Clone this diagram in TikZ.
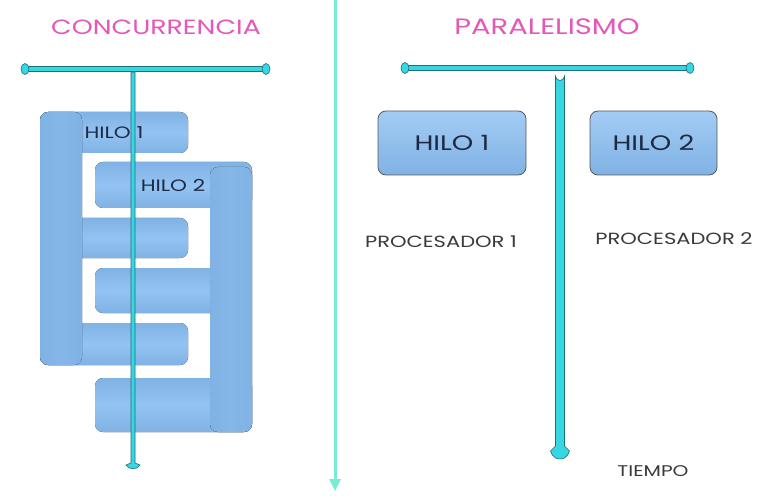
\documentclass[tikz,border=0pt]{standalone}
\usepackage{fontspec}
\setmainfont{Poppins}[FakeStretch=1.3]
\usetikzlibrary{shapes.geometric}
\definecolor{barfill}{HTML}{36D6E2}
\definecolor{barline}{HTML}{1D6F7A}
\definecolor{divcol}{HTML}{78EDD0}
\definecolor{titlepink}{HTML}{E458B8}
\definecolor{blkA}{HTML}{93C3F2}
\definecolor{blkB}{HTML}{80B2E4}
\definecolor{navy}{HTML}{1E2A44}
\definecolor{graytxt}{HTML}{3A3A3A}
\tikzset{
  title/.style={text=titlepink, inner sep=0pt},
  hbar/.style={rounded corners=8pt, draw=none, top color=blkB, bottom color=blkB, middle color=blkA},
  vbar/.style={rounded corners=8pt, draw=none, left color=blkB, right color=blkB, middle color=blkB!75!blkA},
  tbox/.style={rectangle, rounded corners=8pt, draw=black!65, line width=0.8pt, top color=blkA!85!white, bottom color=blkB, minimum width=148pt, minimum height=64pt, text=navy, font=\fontsize{21}{23}\selectfont},
  ltxt/.style={text=navy, font=\fontsize{16.5}{18}\selectfont, inner sep=0pt},
  ptxt/.style={text=graytxt, font=\fontsize{16.2}{18}\selectfont, inner sep=0pt},
  bar/.style={draw=barline, fill=barfill, line width=0.6pt}
}
\begin{document}
\begin{tikzpicture}[x=1pt,y=-1pt]
\useasboundingbox (0,0) rectangle (777,500);
\fill[white] (0,0) rectangle (777,500);

% titles
\node[title, font=\fontsize{20.6}{22}\selectfont] (tconc) at (156,27) {CONCURRENCIA};
\node[title, font=\fontsize{22.3}{24}\selectfont] (tpar) at (547,27) {PARALELISMO};

% divider
\draw[divcol, line width=3pt] (335,0) -- (335,480);
\fill[divcol] (329,479) -- (341,479) -- (335,491) -- cycle;

% left blocks: horizontal bars
\fill[hbar] (40,112) rectangle (188,153);
\fill[hbar] (95,162) rectangle (252,208);
\fill[hbar] (60,218) rectangle (188,258);
\fill[hbar] (95,268) rectangle (230,313);
\fill[hbar] (40,323) rectangle (188,365);
\fill[hbar] (95,378) rectangle (252,432);
% vertical bars
\fill[vbar] (40,112) rectangle (82,365);
\fill[vbar] (210,167) rectangle (252,432);

\node[ltxt] (lh1) at (114,133) {HILO 1};
\node[ltxt] (lh2) at (173,185) {HILO 2};

% left timeline
\draw[bar] (27,66.5) rectangle (265,71.5);
\draw[bar] (25,69) ellipse (4pt and 5.5pt);
\draw[bar] (266,69) ellipse (4pt and 5.5pt);
\draw[bar] (131,72) -- (131,463) -- (126,465) .. controls (128,470) and (138,470) .. (140,465) -- (135,463) -- (135,72) -- cycle;

% right timeline
\draw[bar] (407,65.5) rectangle (689,70.5);
\draw[bar] (405,68) ellipse (4pt and 5.5pt);
\draw[bar] (690,68) ellipse (4pt and 5.5pt);
\draw[bar] (555.5,76) arc (180:0:4.5) -- (564.5,446) -- (569.5,451) .. controls (567,458) and (563,459) .. (560,459) .. controls (557,459) and (553,458) .. (550.5,451) -- (555.5,446) -- cycle;

% right boxes
\node[tbox] (h1) at (452,143) {HILO 1};
\node[tbox, minimum width=127pt] (h2) at (653.5,143) {HILO 2};

\node[ptxt] (p1) at (441,242) {PROCESADOR 1};
\node[ptxt] (p2) at (674,239) {PROCESADOR 2};
\node[ptxt, font=\fontsize{15.5}{17}\selectfont] (tiempo) at (653,471) {TIEMPO};
\end{tikzpicture}
\end{document}
